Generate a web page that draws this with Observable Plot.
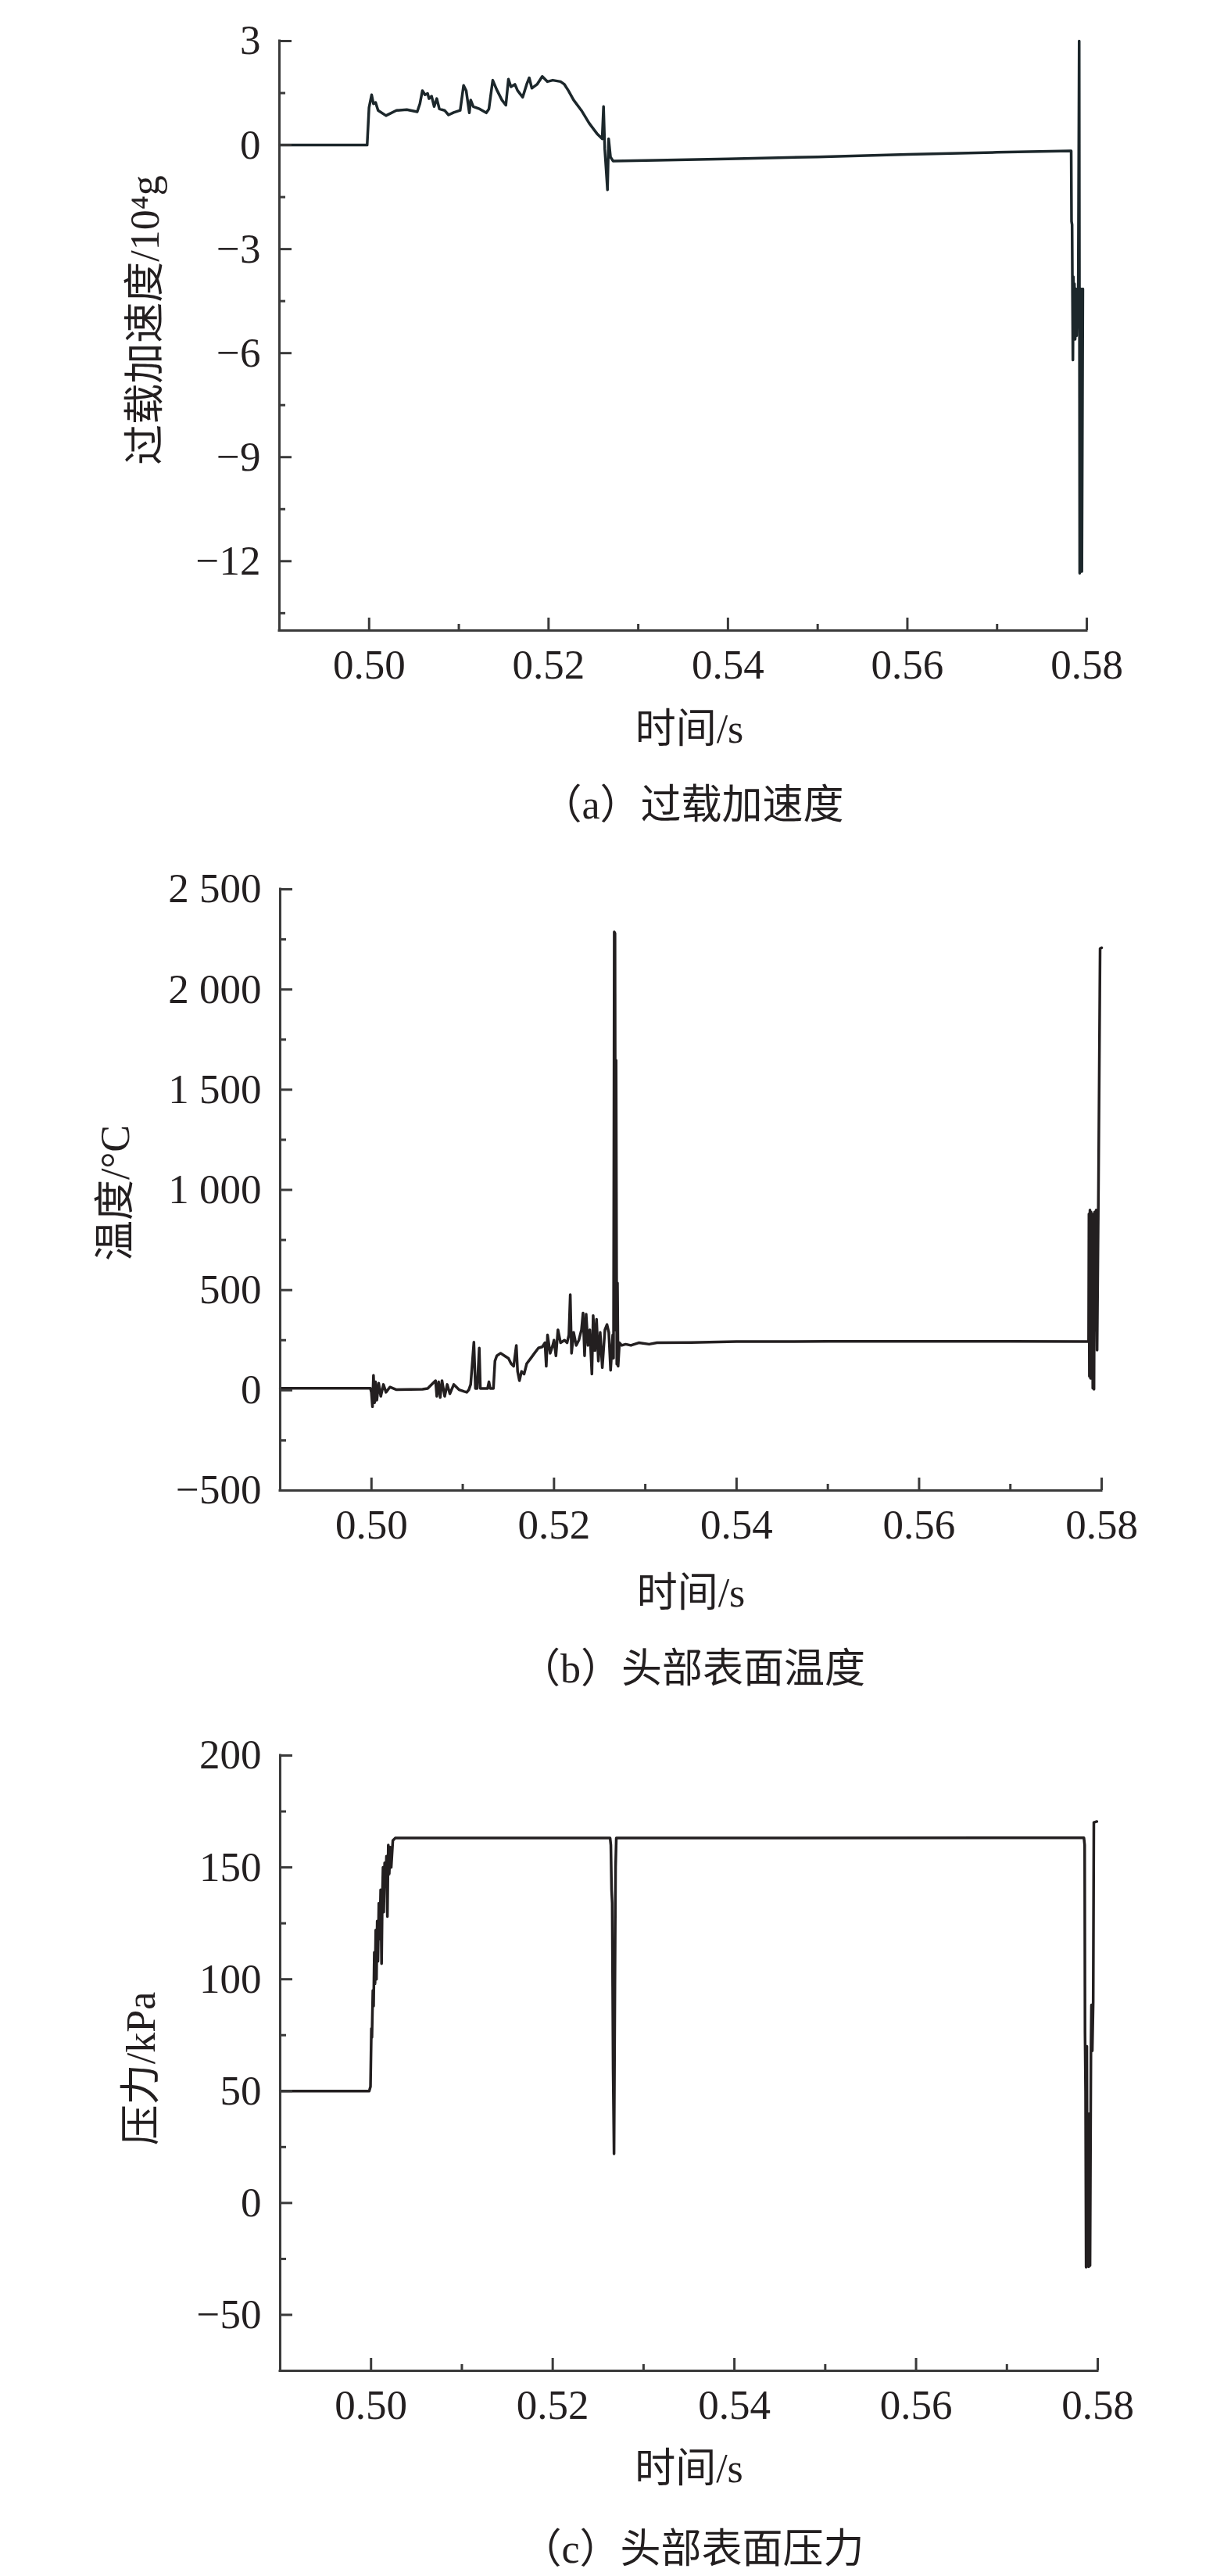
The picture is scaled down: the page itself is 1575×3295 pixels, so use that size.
<!DOCTYPE html>
<html>
<head>
<meta charset="utf-8">
<script src="https://cdn.jsdelivr.net/npm/d3@7"></script>
<script src="https://cdn.jsdelivr.net/npm/@observablehq/plot@0.6"></script>
<style>
  html, body { margin: 0; padding: 0; background: #fff; }
  #page { position: relative; width: 1575px; height: 3295px; overflow: hidden; background: #fff; }
  .panel { position: absolute; left: 0; width: 1575px; }
  .caption {
    position: absolute; left: 486px; width: 800px; height: 60px; line-height: 60px;
    text-align: center; color: #231f20; font-size: 52px;
    font-family: "Liberation Serif", "Noto Sans CJK SC", serif; white-space: nowrap;
  }
</style>
</head>
<body>
<div id="page"></div>
<script>
// ---------- shared x axis ----------
const xDomain = [0.49, 0.58];
const xMajorTicks = [0.50, 0.52, 0.54, 0.56, 0.58];
const xMinorTicks = [0.51, 0.53, 0.55, 0.57];
const xTitle = "时间/s";

// ---------- (a) 过载加速度 ----------
const accelCaption = "（a）过载加速度";
const accelLabel = "过载加速度/10⁴g";
const accelDomain = [-14, 3];
const accelMajor = [3, 0, -3, -6, -9, -12];
const accelMinor = [1.5, -1.5, -4.5, -7.5, -10.5, -13.5];
const accelTime = [
  0.4900, 0.49978, 0.49999, 0.50028, 0.50048, 0.50072, 0.50100, 0.50188, 0.50304, 0.50420,
  0.50536, 0.50566, 0.50594, 0.50623, 0.50652, 0.50667, 0.50696, 0.50725, 0.50754, 0.50783,
  0.50841, 0.50885, 0.50943, 0.51015, 0.51053, 0.51082, 0.51117, 0.51132, 0.51161, 0.51233,
  0.51306, 0.51335, 0.51378, 0.51422, 0.51480, 0.51524, 0.51553, 0.51581, 0.51625, 0.51655,
  0.51712, 0.51756, 0.51785, 0.51814, 0.51872, 0.51930, 0.51988, 0.52047, 0.52134, 0.52177,
  0.52221, 0.52279, 0.52366, 0.52453, 0.52540, 0.52598, 0.52613, 0.52627, 0.52657, 0.52670,
  0.52691, 0.52720, 0.53208, 0.5400, 0.5500, 0.5600, 0.5700, 0.57826, 0.57830, 0.57836,
  0.57840, 0.57845, 0.57850, 0.57856, 0.57862, 0.57870, 0.57878, 0.57886, 0.57895, 0.57905,
  0.57915, 0.57921, 0.57935, 0.57945, 0.57956
];
const accelValue = [
  0.00, 0.00, 1.08, 1.45, 1.19, 1.23, 1.00, 0.85, 1.00, 1.02,
  0.96, 1.19, 1.57, 1.45, 1.49, 1.34, 1.41, 1.11, 1.34, 1.04,
  1.00, 0.87, 0.94, 1.00, 1.72, 1.57, 0.93, 1.30, 1.11, 1.04,
  0.93, 1.04, 1.87, 1.60, 1.30, 1.15, 1.90, 1.68, 1.75, 1.57,
  1.38, 1.75, 1.94, 1.64, 1.75, 1.98, 1.83, 1.87, 1.83, 1.75,
  1.57, 1.30, 1.00, 0.63, 0.33, 0.18, 1.11, -0.12, -1.29, 0.18,
  -0.35, -0.46, -0.44, -0.40, -0.34, -0.27, -0.21, -0.17, -2.20, -2.30,
  -4.15, -6.20, -3.80, -4.40, -4.00, -5.60, -4.15, -5.50, -4.20, -4.15,
  3.00, -12.35, -4.15, -12.30, -4.15
];

// ---------- (b) 头部表面温度 ----------
const tempCaption = "（b）头部表面温度";
const tempLabel = "温度/°C";
const tempDomain = [-500, 2500];
const tempMajor = [2500, 2000, 1500, 1000, 500, 0, -500];
const tempMinor = [2250, 1750, 1250, 750, 250, -250];
const tempTime = [
  0.4900, 0.49988, 0.49999, 0.50011, 0.50022, 0.50034, 0.50045, 0.50059, 0.50079, 0.50102,
  0.50131, 0.50159, 0.50202, 0.50274, 0.50559, 0.50616, 0.50702, 0.50716, 0.50736, 0.50753,
  0.50773, 0.50802, 0.50830, 0.50859, 0.50902, 0.50959, 0.51016, 0.51044, 0.51067, 0.51087,
  0.51122, 0.51139, 0.51158, 0.51181, 0.51193, 0.51272, 0.51287, 0.51301, 0.51336, 0.51353,
  0.51373, 0.51415, 0.51458, 0.51501, 0.51530, 0.51558, 0.51587, 0.51601, 0.51621, 0.51644,
  0.51672, 0.51701, 0.51744, 0.51786, 0.51829, 0.51872, 0.51901, 0.51915, 0.51929, 0.51958,
  0.51986, 0.52000, 0.52021, 0.52043, 0.52072, 0.52115, 0.52143, 0.52163, 0.52178, 0.52192,
  0.52215, 0.52243, 0.52272, 0.52301, 0.52318, 0.52335, 0.52352, 0.52372, 0.52392, 0.52415,
  0.52429, 0.52449, 0.52466, 0.52486, 0.52506, 0.52529, 0.52558, 0.52580, 0.52600, 0.52620,
  0.52643, 0.52652, 0.52660, 0.52668, 0.52674, 0.52680, 0.52688, 0.52695, 0.52702, 0.52717,
  0.52742, 0.52785, 0.52842, 0.52928, 0.53042, 0.53128, 0.5350, 0.5400, 0.5500, 0.5600,
  0.5700, 0.57857, 0.57861, 0.57866, 0.57872, 0.57878, 0.57884, 0.57890, 0.57897, 0.57903,
  0.57910, 0.57916, 0.57923, 0.57930, 0.57940, 0.57950, 0.57965, 0.57983, 0.58000
];
const tempValue = [
  10, 10, -10, -82, 74, -62, 42, -49, 35, -30,
  29, -10, 16, 3, 5, 9, 48, -30, 42, -36,
  48, -30, 29, -17, 29, 3, -6, -10, 3, 29,
  240, 9, 9, 211, 9, 9, 42, 9, 9, 146,
  172, 185, 172, 159, 133, 120, 224, 94, 48, 94,
  81, 133, 159, 185, 211, 217, 237, 120, 276, 185,
  224, 250, 172, 302, 237, 250, 237, 276, 477, 185,
  289, 224, 250, 302, 386, 172, 380, 224, 302, 81,
  373, 198, 354, 146, 289, 113, 302, 328, 289, 100,
  276, 160, 2287, 2280, 300, 1647, 130, 536, 120, 237,
  224, 230, 224, 237, 230, 237, 238, 243, 244, 244,
  244, 243, 880, 70, 900, 60, 890, 200, 750, 10,
  880, 5, 890, 300, 900, 200, 1000, 2204, 2208
];

// ---------- (c) 头部表面压力 ----------
const presCaption = "（c）头部表面压力";
const presLabel = "压力/kPa";
const presDomain = [-75, 200];
const presMajor = [200, 150, 100, 50, 0, -50];
const presMinor = [175, 125, 75, 25, -25];
const presTime = [
  0.4900, 0.49980, 0.49994, 0.50004, 0.50010, 0.50020, 0.50028, 0.50036, 0.50044, 0.50052,
  0.50060, 0.50068, 0.50076, 0.50086, 0.50096, 0.50106, 0.50116, 0.50124, 0.50132, 0.50140,
  0.50150, 0.50160, 0.50170, 0.50180, 0.50190, 0.50200, 0.50212, 0.50222, 0.50240, 0.50266,
  0.52632, 0.52640, 0.52648, 0.52655, 0.52665, 0.52675, 0.52685, 0.52692, 0.52700, 0.57848,
  0.57856, 0.57860, 0.57866, 0.57872, 0.57880, 0.57886, 0.57893, 0.57900, 0.57908, 0.57915,
  0.57925, 0.57931, 0.57940, 0.57950, 0.57957, 0.57990
];
const presValue = [
  50, 50, 52, 78, 74, 95, 88, 112, 98, 122,
  100, 126, 108, 134, 118, 140, 107, 136, 150, 130,
  152, 143, 155, 128, 160, 147, 159, 150, 162, 163.1,
  163.1, 160, 140, 134, 60, 22, 100, 150, 163.1, 163.2,
  160, 76, 50, -28.7, 70, -28, 34, -28.5, 40, -28,
  67, 88.5, 68, 90, 170.1, 170.5
];

// ---------- drawing ----------
const FONT = '"Liberation Serif", "Noto Sans CJK SC", serif';
const AXIS = "#3a3a3a";
const INK = "#231f20";
const page = document.getElementById("page");

function makePanel(cfg) {
  const W = 1575;
  const frameW = W - cfg.ml - cfg.mr;
  const frameH = cfg.h - cfg.mt - cfg.mb;
  const yPer = (cfg.yDomain[1] - cfg.yDomain[0]) / frameH;
  const xPer = (xDomain[1] - xDomain[0]) / frameW;
  const y0 = cfg.yDomain[0], y1 = cfg.yDomain[1];
  const x0 = xDomain[0], x1 = xDomain[1];
  const data = cfg.time.map((t, i) => ({t, v: cfg.value[i]}));
  const svg = Plot.plot({
    width: W,
    height: cfg.h,
    marginTop: cfg.mt,
    marginBottom: cfg.mb,
    marginLeft: cfg.ml,
    marginRight: cfg.mr,
    x: {domain: xDomain},
    y: {domain: cfg.yDomain},
    style: {fontFamily: FONT, fontSize: "53px", color: INK, background: "transparent", overflow: "visible"},
    marks: [
      Plot.line(data, {x: "t", y: "v", stroke: cfg.stroke, strokeWidth: 3.5, strokeLinejoin: "round"}),
      Plot.ruleX(xMajorTicks, {x: d => d, y1: y0, y2: y0 + 16 * yPer, stroke: AXIS, strokeWidth: 3}),
      Plot.ruleX(xMinorTicks, {x: d => d, y1: y0, y2: y0 + 8 * yPer, stroke: AXIS, strokeWidth: 3}),
      Plot.ruleY(cfg.yMajor, {y: d => d, x1: x0, x2: x0 + 16 * xPer, stroke: AXIS, strokeWidth: 3}),
      Plot.ruleY(cfg.yMinor, {y: d => d, x1: x0, x2: x0 + 8 * xPer, stroke: AXIS, strokeWidth: 3}),
      Plot.ruleY([y0], {x1: x0, x2: x1, stroke: AXIS, strokeWidth: 3, strokeLinecap: "square"}),
      Plot.ruleX([x0], {y1: y0, y2: y1, stroke: AXIS, strokeWidth: 3, strokeLinecap: "square"}),
      Plot.axisX({ticks: xMajorTicks, tickSize: 0, tickPadding: 24, tickFormat: d3.format(".2f"),
                  fontSize: 53, fill: INK, label: null}),
      Plot.axisY({ticks: cfg.yMajor, tickSize: 0, tickPadding: 24, tickFormat: cfg.yFormat,
                  fontSize: 53, fill: INK, label: null}),
      Plot.text([cfg.yLabel], {text: d => d, frameAnchor: "left", rotate: -90, textAnchor: "middle",
                  lineAnchor: "middle", dx: cfg.ylx, dy: cfg.yly, fontSize: 52, fill: INK}),
      Plot.text([xTitle], {text: d => d, frameAnchor: "bottom", textAnchor: "middle",
                  lineAnchor: "middle", dx: cfg.xtx, dy: cfg.xty, fontSize: 52, fill: INK})
    ]
  });
  const holder = document.createElement("div");
  holder.className = "panel";
  holder.style.top = cfg.top + "px";
  holder.appendChild(svg);
  page.appendChild(holder);

  const cap = document.createElement("div");
  cap.className = "caption";
  cap.style.top = (cfg.capCenter - 30) + "px";
  cap.textContent = cfg.caption;
  page.appendChild(cap);
}

const intFmt = d3.format("d");
const spacedFmt = d => d3.format(",")(d).replace(/,/g, " ");

makePanel({
  top: 0, h: 990, mt: 52, mb: 184, ml: 357, mr: 185,
  yDomain: accelDomain, yMajor: accelMajor, yMinor: accelMinor, yFormat: intFmt,
  time: accelTime, value: accelValue, stroke: "#1c272b",
  yLabel: accelLabel, ylx: -171, yly: -20, xtx: 8, xty: 127,
  caption: accelCaption, capCenter: 1030
});

makePanel({
  top: 1090, h: 1000, mt: 47, mb: 184, ml: 358, mr: 166,
  yDomain: tempDomain, yMajor: tempMajor, yMinor: tempMinor, yFormat: spacedFmt,
  time: tempTime, value: tempValue, stroke: INK,
  yLabel: tempLabel, ylx: -210, yly: 4, xtx: 0, xty: 132,
  caption: tempCaption, capCenter: 2135
});

makePanel({
  top: 2200, h: 1000, mt: 45, mb: 168, ml: 358, mr: 171,
  yDomain: presDomain, yMajor: presMajor, yMinor: presMinor, yFormat: intFmt,
  time: presTime, value: presValue, stroke: INK,
  yLabel: presLabel, ylx: -177, yly: 7, xtx: 0, xty: 126,
  caption: presCaption, capCenter: 3261
});
</script>
</body>
</html>
